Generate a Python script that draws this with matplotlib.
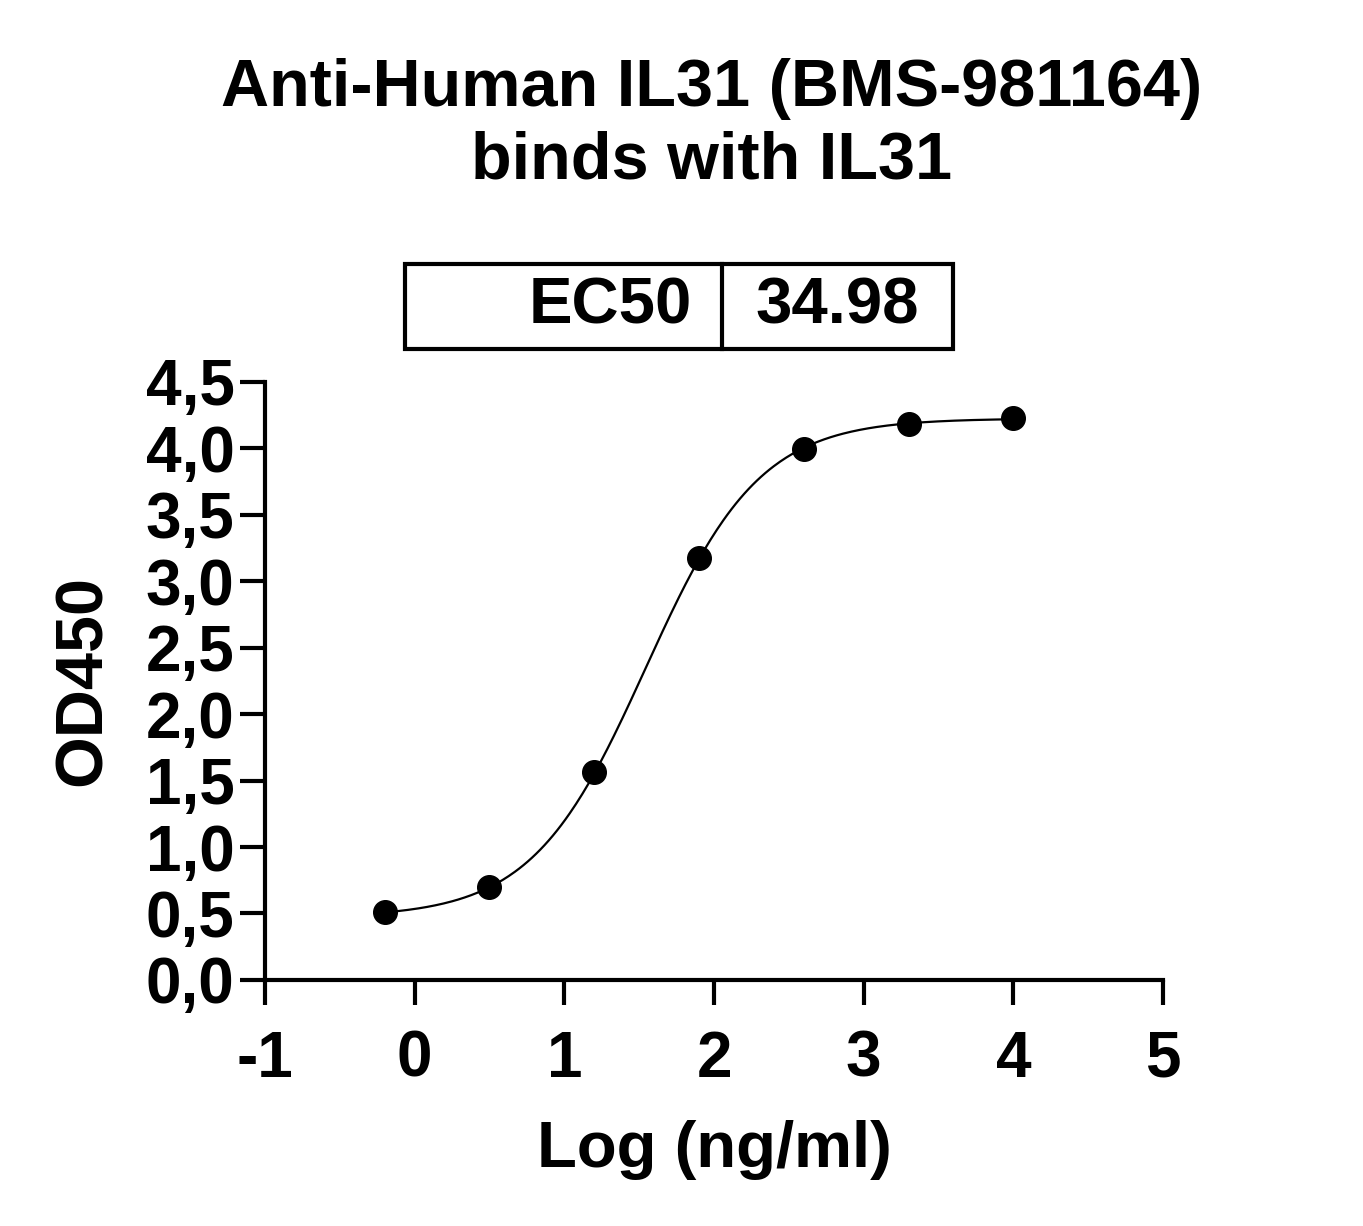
import numpy as np
import matplotlib.pyplot as plt

plt.rcParams['font.family'] = ['Liberation Sans', 'DejaVu Sans']
plt.rcParams['font.weight'] = 'bold'

# Дані: log концентрації та OD450
log_conc = [-0.2, 0.5, 1.2, 1.9, 2.6, 3.3, 4.0]
od450 = [0.51, 0.70, 1.565, 3.175, 3.995, 4.18, 4.23]

# Параметри 4PL-апроксимації
bottom, top, log_ec50, hill = 0.47, 4.225, np.log10(34.98), 1.14
ec50_text = "34.98"

xticks = [-1, 0, 1, 2, 3, 4, 5]
yticks = [0, 0.5, 1, 1.5, 2, 2.5, 3, 3.5, 4, 4.5]
ytick_labels = [f"{v:.1f}".replace('.', ',') for v in yticks]

fig = plt.figure(figsize=(13.63, 12.26), dpi=100)
ax = fig.add_axes([0.1944, 0.2007, 0.6589, 0.4878])

xf = np.linspace(log_conc[0], log_conc[-1], 300)
yf = bottom + (top - bottom) / (1 + 10 ** ((log_ec50 - xf) * hill))
ax.plot(xf, yf, color='black', linewidth=1.6)
ax.plot(log_conc, od450, 'o', color='black', markersize=17)

ax.set_xlim(-1, 5)
ax.set_ylim(0, 4.5)
ax.set_xticks(xticks)
ax.set_xticklabels([str(t) for t in xticks])
ax.set_yticks(yticks)
ax.set_yticklabels(ytick_labels)
for s in ['top', 'right']:
    ax.spines[s].set_visible(False)
for s in ['left', 'bottom']:
    ax.spines[s].set_linewidth(3)
ax.tick_params(width=3, length=18, labelsize=46, pad=4)
ax.tick_params(axis='x', pad=18)

ax.set_xlabel('Log (ng/ml)', fontsize=47, fontweight='bold', labelpad=22)
ax.set_ylabel('OD450', fontsize=48, fontweight='bold', labelpad=22)

fig.text(0.522, 0.8975, 'Anti-Human IL31 (BMS-981164)\nbinds with IL31',
         ha='center', va='center', fontsize=48, fontweight='bold', linespacing=1.22)

# Таблиця EC50
x0, x1, xm = 405 / 1363, 953 / 1363, 722 / 1363
y0, y1 = 1 - 349 / 1226, 1 - 264 / 1226
fig.patches.append(plt.Rectangle((x0, y0), x1 - x0, y1 - y0, transform=fig.transFigure,
                                 fill=False, edgecolor='black', linewidth=3))
fig.add_artist(plt.Line2D([xm, xm], [y0, y1], transform=fig.transFigure, color='black', linewidth=3))
fig.text(692 / 1363, (y0 + y1) / 2, 'EC50', ha='right', va='center', fontsize=47, fontweight='bold')
fig.text(837 / 1363, (y0 + y1) / 2, ec50_text, ha='center', va='center', fontsize=47, fontweight='bold')

fig.savefig('out.png', dpi=100)
